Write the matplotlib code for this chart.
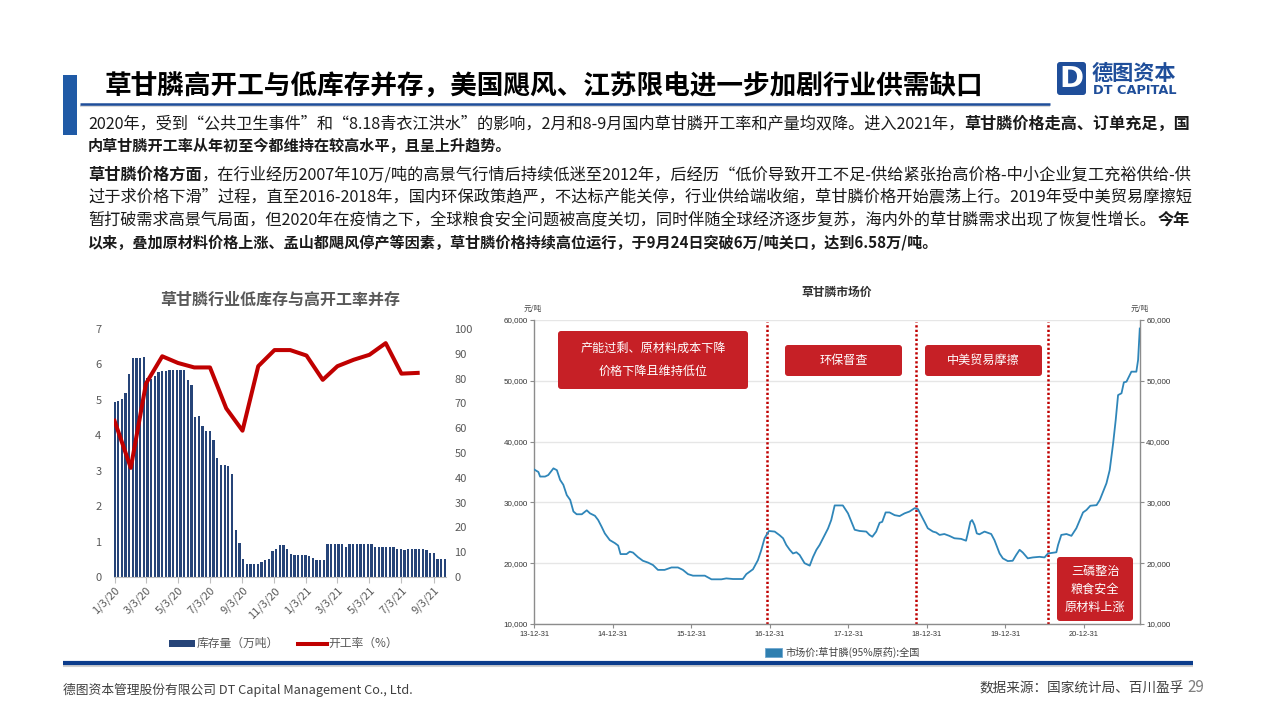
import matplotlib
matplotlib.use('Agg')
import matplotlib.pyplot as plt
from matplotlib.patches import FancyBboxPatch, Rectangle
from matplotlib.lines import Line2D
import pandas as pd

plt.rcParams['font.family'] = ['Noto Sans CJK SC', 'DejaVu Sans']

# ---------------- data ----------------
inventory = [4.94, 4.96, 5.02, 5.20, 5.74, 6.18, 6.18, 6.18, 6.21, 5.62, 5.60, 5.68, 5.79,
             5.82, 5.82, 5.84, 5.85, 5.85, 5.85, 5.85, 5.56, 5.42, 4.51, 4.54, 4.26, 4.12,
             4.12, 3.86, 3.36, 3.15, 3.15, 3.12, 2.92,
             1.34, 0.95, 0.50, 0.38, 0.38, 0.38, 0.38, 0.41, 0.47, 0.52, 0.72, 0.78, 0.89,
             0.89, 0.78, 0.66, 0.61, 0.61, 0.61, 0.61, 0.58, 0.55, 0.47, 0.47, 0.47, 0.92,
             0.92, 0.92, 0.92, 0.92, 0.86, 0.92, 0.92, 0.92, 0.92, 0.92, 0.92, 0.92, 0.86,
             0.86, 0.86, 0.86, 0.86, 0.86, 0.80, 0.80, 0.75, 0.78, 0.78, 0.78, 0.78, 0.78,
             0.75, 0.69, 0.69, 0.52, 0.50, 0.50]
inv_dates = pd.date_range('2020-01-03', periods=len(inventory), freq='7D')

op_rate = [63, 44, 78, 89, 86.3, 84.5, 84.5, 68, 59, 85, 91.5, 91.5, 89.3, 79.5, 85,
           87.6, 89.6, 94.3, 82, 82.3]
rate_dates = pd.date_range('2020-01-03', periods=len(op_rate), freq=pd.DateOffset(months=1))

left_tick_dates = pd.date_range('2020-01-03', '2021-09-03', freq=pd.DateOffset(months=2))
left_yticks = [0, 1, 2, 3, 4, 5, 6, 7]
right_yticks = [0, 10, 20, 30, 40, 50, 60, 70, 80, 90, 100]

price_dates = ['2013-12-31', '2014-01-19', '2014-01-27', '2014-02-19', '2014-03-06', '2014-03-30',
               '2014-04-15', '2014-04-30', '2014-05-15', '2014-05-31', '2014-06-16', '2014-07-01',
               '2014-07-16', '2014-08-09', '2014-09-01', '2014-09-16', '2014-10-09', '2014-10-24',
               '2014-11-09', '2014-11-24', '2014-12-17', '2015-01-10', '2015-01-25', '2015-02-05',
               '2015-03-05', '2015-03-20', '2015-04-04', '2015-04-27', '2015-05-20', '2015-06-13',
               '2015-07-06', '2015-07-29', '2015-08-29', '2015-09-30', '2015-10-30', '2015-11-22',
               '2015-12-16', '2016-01-08', '2016-03-03', '2016-04-03', '2016-05-19', '2016-06-11',
               '2016-07-12', '2016-08-27', '2016-09-12', '2016-10-13', '2016-11-05', '2016-11-21',
               '2016-12-06', '2016-12-26', '2017-01-22', '2017-02-14', '2017-03-02', '2017-03-17',
               '2017-04-02', '2017-04-17', '2017-05-03', '2017-05-18', '2017-06-10', '2017-07-04',
               '2017-07-19', '2017-08-04', '2017-08-19', '2017-09-11', '2017-09-27', '2017-10-12',
               '2017-10-28', '2017-12-05', '2017-12-29', '2018-01-14', '2018-01-29', '2018-02-21',
               '2018-03-24', '2018-04-08', '2018-04-21', '2018-05-09', '2018-05-25', '2018-06-06',
               '2018-06-22', '2018-07-10', '2018-08-03', '2018-08-26', '2018-09-18', '2018-10-11',
               '2018-11-04', '2018-11-19', '2018-12-04', '2018-12-20', '2019-01-04', '2019-01-28',
               '2019-02-12', '2019-02-28', '2019-03-22', '2019-04-14', '2019-05-08', '2019-06-08',
               '2019-07-01', '2019-07-09', '2019-07-21', '2019-07-29', '2019-08-09', '2019-08-20',
               '2019-09-01', '2019-09-25', '2019-10-10', '2019-10-26', '2019-11-10', '2019-12-04',
               '2019-12-19', '2020-01-11', '2020-02-03', '2020-02-19', '2020-03-06', '2020-03-21',
               '2020-04-13', '2020-05-07', '2020-06-07', '2020-06-30', '2020-07-16', '2020-08-24',
               '2020-09-01', '2020-09-16', '2020-10-10', '2020-11-02', '2020-11-25', '2020-12-11',
               '2020-12-26', '2021-01-11', '2021-01-29', '2021-02-27', '2021-03-14', '2021-03-29',
               '2021-04-14', '2021-04-29', '2021-05-15', '2021-05-27', '2021-06-07', '2021-06-23',
               '2021-07-04', '2021-07-16', '2021-08-08', '2021-08-31', '2021-09-08', '2021-09-16']
price_values = [35400, 35000, 34250, 34250, 34500, 35600, 35300, 33700, 32900, 31200, 30400, 28500,
                28050, 28050, 28700, 28200, 27800, 27100, 26000, 24900, 23800, 23300, 22900, 21500,
                21500, 21900, 21750, 21000, 20400, 20100, 19700, 18900, 18900, 19300, 19300, 18900,
                18200, 17950, 17950, 17350, 17350, 17500, 17400, 17400, 18200, 19000, 20500, 22200,
                24100, 25300, 25200, 24600, 24100, 23000, 22200, 21600, 21800, 21350, 20000, 19600,
                21000, 22200, 23000, 24600, 25700, 27100, 29500, 29500, 28200, 26800, 25500, 25300,
                25200, 24650, 24350, 25200, 26650, 26800, 28350, 28350, 27900, 27750, 28200, 28500,
                29050, 28900, 27900, 26800, 25750, 25200, 25050, 24650, 24800, 24500, 24100, 24000,
                23700, 24900, 26800, 27100, 26300, 24900, 24750, 25200, 25000, 24800, 23800, 21600,
                20800, 20350, 20400, 21350, 22200, 21750, 20800, 20950, 21050, 20950, 21600, 21800,
                23000, 24650, 24800, 24500, 25750, 27100, 28350, 28750, 29450, 29550, 30400, 31750,
                33150, 35300, 39700, 43550, 47650, 47950, 49750, 49850, 51500, 51500, 53400, 58600]
price_xticks = ['2013-12-31', '2014-12-31', '2015-12-31', '2016-12-31', '2017-12-31',
                '2018-12-31', '2019-12-31', '2020-12-31']
price_yticks = [10000, 20000, 30000, 40000, 50000, 60000]
event_dates = ['2016-12-18', '2018-11-12', '2020-07-14']
event_labels = ['产能过剩、原材料成本下降\n价格下降且维持低位', '环保督查', '中美贸易摩擦',
                '三磷整治\n粮食安全\n原材料上涨']

title = '草甘膦高开工与低库存并存，美国飓风、江苏限电进一步加剧行业供需缺口'
left_title = '草甘膦行业低库存与高开工率并存'
right_title = '草甘膦市场价'
legend_left = ['库存量（万吨）', '开工率（%）']
legend_right = '市场价:草甘膦(95%原药):全国'
body_lines = [
    [("2020年，受到“公共卫生事件”和“8.18青衣江洪水”的影响，2月和8-9月国内草甘膦开工率和产量均双降。进入2021年，", False),
     ("草甘膦价格走高、订单充足，国", True)],
    [("内草甘膦开工率从年初至今都维持在较高水平，且呈上升趋势。", True)],
    [("草甘膦价格方面", True),
     ("，在行业经历2007年10万/吨的高景气行情后持续低迷至2012年，后经历“低价导致开工不足-供给紧张抬高价格-中小企业复工充裕供给-供", False)],
    [("过于求价格下滑”过程，直至2016-2018年，国内环保政策趋严，不达标产能关停，行业供给端收缩，草甘膦价格开始震荡上行。2019年受中美贸易摩擦短", False)],
    [("暂打破需求高景气局面，但2020年在疫情之下，全球粮食安全问题被高度关切，同时伴随全球经济逐步复苏，海内外的草甘膦需求出现了恢复性增长。", False),
     ("今年", True)],
    [("以来，叠加原材料价格上涨、孟山都飓风停产等因素，草甘膦价格持续高位运行，于9月24日突破6万/吨关口，达到6.58万/吨。", True)],
]
footer_left = '德图资本管理股份有限公司 DT Capital Management Co., Ltd.'
footer_right = '数据来源：国家统计局、百川盈孚'
page_no = '29'

# ---------------- figure ----------------
W, H = 1280, 720
fig = plt.figure(figsize=(12.8, 7.2), dpi=100)
fig.patch.set_facecolor('white')


def axes_px(x0, y0, x1, y1, **kw):
    return fig.add_axes([x0 / W, 1 - y1 / H, (x1 - x0) / W, (y1 - y0) / H], **kw)


BAR = '#264478'
RED = '#C00000'
GRAY = '#595959'

# ---- left chart ----
axL = axes_px(114, 329, 446, 577)
bars = axL.bar(inv_dates, inventory, width=4.4, color=BAR, zorder=2)
axL.set_ylim(0, 7)
axL.set_xlim(pd.Timestamp('2020-01-02'), pd.Timestamp('2021-09-26'))
axL.set_yticks(left_yticks)
axL.set_xticks(left_tick_dates)
axL.set_xticklabels([f'{d.month}/{d.day}/{d.strftime("%y")}' for d in left_tick_dates],
                    rotation=45, ha='right', rotation_mode='anchor')
for s in ['top', 'left', 'right']:
    axL.spines[s].set_visible(False)
axL.spines['bottom'].set_color('#BFBFBF')
axL.tick_params(axis='y', length=0, labelsize=8, labelcolor=GRAY, pad=9)
axL.tick_params(axis='x', length=4, color='#BFBFBF', labelsize=8, labelcolor=GRAY, pad=2)
axL.patch.set_alpha(0)

ax2 = axL.twinx()
ax2.plot(rate_dates, op_rate, color=RED, lw=2.9, zorder=3, solid_joinstyle='round')
ax2.set_ylim(0, 100)
ax2.set_yticks(right_yticks)
for s in ax2.spines.values():
    s.set_visible(False)
ax2.tick_params(axis='y', length=0, labelsize=8, labelcolor=GRAY, pad=6)

# ---- right chart ----
axR = axes_px(534.3, 320, 1140, 624)
axR.plot(pd.to_datetime(price_dates), price_values, color='#2F86B9', lw=1.3, zorder=3)
axR.set_ylim(10000, 60000)
axR.set_xlim(pd.Timestamp('2013-12-31'), pd.Timestamp('2021-09-17'))
axR.set_yticks(price_yticks)
axR.set_yticklabels([f'{v:,}' for v in price_yticks])
px = pd.to_datetime(price_xticks)
axR.set_xticks(px)
axR.set_xticklabels([d.strftime('%y-%m-%d') for d in px])
axR.yaxis.grid(True, color='#E6E6E6', lw=1)
axR.set_axisbelow(True)
axR.spines['top'].set_visible(False)
for s in ['left', 'right', 'bottom']:
    axR.spines[s].set_color('#8C8C8C')
    axR.spines[s].set_linewidth(1)
axR.tick_params(axis='y', length=3, color='#8C8C8C', labelsize=5.8, labelcolor='#333333',
                right=True, labelright=True, pad=1.5)
axR.tick_params(axis='x', length=3, color='#8C8C8C', labelsize=5.4, labelcolor='#333333', pad=2)
for lab in axR.get_xticklabels() + axR.get_yticklabels():
    lab.set_fontfamily(['Liberation Sans', 'DejaVu Sans'])
for d in event_dates:
    axR.axvline(pd.Timestamp(d), ymin=0, ymax=0.995, color='#C00000', lw=1.8,
                ls=(0, (0.9, 0.9)), zorder=2)

# ---- overlay in pixel coordinates ----
ov = fig.add_axes([0, 0, 1, 1], zorder=10)
ov.set_xlim(0, W)
ov.set_ylim(H, 0)
ov.axis('off')
renderer = fig.canvas.get_renderer()


def draw_runs(x, y, runs, size, target_w=None, color='#1A1A1A', family=None):
    texts = []
    for s, b in runs:
        kw = {}
        if family:
            kw['family'] = family
        t = ov.text(0, y, s, fontsize=size, fontweight='bold' if b else 'normal',
                    va='center', ha='left', color=color, **kw)
        texts.append(t)
    widths = [t.get_window_extent(renderer).width for t in texts]
    if target_w:
        k = target_w / sum(widths)
        for t in texts:
            t.set_fontsize(size * k)
        widths = [w * k for w in widths]
    cx = x
    for t, w in zip(texts, widths):
        t.set_x(cx)
        cx += w
    return texts

# slide header
ov.add_patch(Rectangle((63, 75), 14, 60, color='#1F5AA6', lw=0))
ov.plot([80, 1050], [106, 106], color='#D9D9D9', lw=1.5, solid_capstyle='butt')
ov.plot([80, 1050], [103.5, 103.5], color='#1F4E9A', lw=1.8, solid_capstyle='butt')
draw_runs(105, 87, [(title, True)], 19, target_w=880, color='#000000')

# logo
ov.add_patch(FancyBboxPatch((1057, 62), 29, 33, boxstyle='round,pad=0,rounding_size=3',
                            color='#1F4E9A', lw=0))
ov.text(1071.5, 79, 'D', color='white', fontsize=21, fontweight='bold', ha='center',
        va='center', family='DejaVu Sans')
draw_runs(1092, 73, [('德图资本', True)], 14, target_w=85, color='#1F4E9A')
draw_runs(1093, 90, [('DT CAPITAL', True)], 8, target_w=84, color='#1F4E9A', family='DejaVu Sans')

# body text
line_y = [124, 146, 175, 197, 220, 243]
full = [True, False, True, True, True, False]
for y, runs, f in zip(line_y, body_lines, full):
    draw_runs(88, y, runs, 10.9, target_w=1102 if f else None)

# left chart title and legend
ov.text(280, 300, left_title, fontsize=11.5, fontweight='bold', color=GRAY, ha='center', va='center')
ov.add_patch(Rectangle((169, 640), 26, 7, color=BAR, lw=0))
ov.text(197, 643.5, legend_left[0], fontsize=8.5, color=GRAY, va='center', ha='left')
ov.add_line(Line2D([298, 327], [643.5, 643.5], color=RED, lw=2.9))
ov.text(328, 643.5, legend_left[1], fontsize=8.5, color=GRAY, va='center', ha='left')

# right chart title, units, legend
ov.text(837, 292, right_title, fontsize=8.5, fontweight='bold', color='#333333', ha='center', va='center')
ov.text(533, 309, '元/吨', fontsize=5.5, color='#444444', ha='center', va='center')
ov.text(1140, 309, '元/吨', fontsize=5.5, color='#444444', ha='center', va='center')
ov.add_patch(Rectangle((765, 648), 17, 9, facecolor='#2F7FB0', edgecolor='#6FA8D0', lw=0.6))
ov.text(786, 652.5, legend_right, fontsize=7.3, color='#444444', ha='left', va='center')

# annotation boxes (pixel geometry)
box_geom = [(558, 331, 748, 389, 22.6), (785, 345, 902, 376, 0),
            (925, 345, 1042, 376, 0), (1057, 557, 1133, 621, 18)]
for (x0, y0, x1, y1, sp), lab in zip(box_geom, event_labels):
    ov.add_patch(FancyBboxPatch((x0, y0), x1 - x0, y1 - y0,
                                boxstyle='round,pad=0,rounding_size=3', color='#C62026', lw=0))
    lines = lab.split('\n')
    cy = (y0 + y1) / 2
    n = len(lines)
    for i, ln in enumerate(lines):
        ov.text((x0 + x1) / 2, cy + (i - (n - 1) / 2) * sp, ln, fontsize=8.7, color='white',
                ha='center', va='center')

# footer
ov.plot([63, 1193], [666, 666], color='#D0D0D0', lw=1.5, solid_capstyle='butt')
ov.plot([63, 1193], [663, 663], color='#0B3C8C', lw=3, solid_capstyle='butt')
ov.text(63, 690, footer_left, fontsize=9.2, color='#404040', ha='left', va='center')
ov.text(1184, 688, footer_right, fontsize=9.8, color='#404040', ha='right', va='center')
ov.text(1187, 687, page_no, fontsize=11, color='#7F7F7F', ha='left', va='center')

fig.savefig('out.png', dpi=100, facecolor='white')
